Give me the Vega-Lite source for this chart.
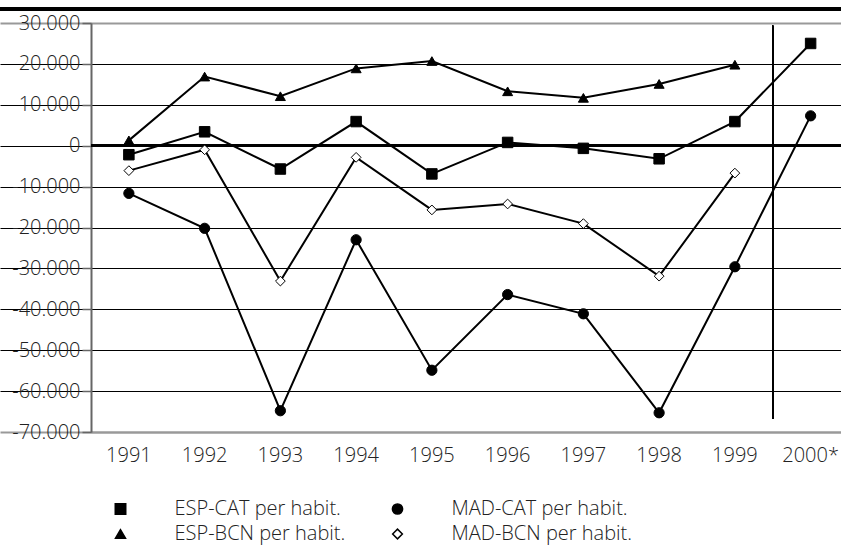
{
  "$schema": "https://vega.github.io/schema/vega-lite/v6.json",
  "autosize": "none",
  "width": 750,
  "height": 409,
  "padding": {"left": 91, "top": 23, "right": 0, "bottom": 115},
  "background": "white",
  "config": {
    "view": {"stroke": null},
    "font": "Open Sans",
    "axis": {"labelFont": "Open Sans", "labelFontWeight": 300, "labelColor": "#222", "labelFontSize": 20},
    "legend": {"labelFont": "Open Sans", "labelFontWeight": 300, "labelColor": "#222"}
  },
  "data": {"values": [
    {"year": "1991", "series": "ESP-CAT per habit.", "value": -2200},
    {"year": "1992", "series": "ESP-CAT per habit.", "value": 3400},
    {"year": "1993", "series": "ESP-CAT per habit.", "value": -5700},
    {"year": "1994", "series": "ESP-CAT per habit.", "value": 5900},
    {"year": "1995", "series": "ESP-CAT per habit.", "value": -6900},
    {"year": "1996", "series": "ESP-CAT per habit.", "value": 800},
    {"year": "1997", "series": "ESP-CAT per habit.", "value": -650},
    {"year": "1998", "series": "ESP-CAT per habit.", "value": -3200},
    {"year": "1999", "series": "ESP-CAT per habit.", "value": 5900},
    {"year": "2000*", "series": "ESP-CAT per habit.", "value": 25000},
    {"year": "1991", "series": "MAD-CAT per habit.", "value": -11650},
    {"year": "1992", "series": "MAD-CAT per habit.", "value": -20200},
    {"year": "1993", "series": "MAD-CAT per habit.", "value": -64800},
    {"year": "1994", "series": "MAD-CAT per habit.", "value": -23000},
    {"year": "1995", "series": "MAD-CAT per habit.", "value": -54900},
    {"year": "1996", "series": "MAD-CAT per habit.", "value": -36400},
    {"year": "1997", "series": "MAD-CAT per habit.", "value": -41100},
    {"year": "1998", "series": "MAD-CAT per habit.", "value": -65300},
    {"year": "1999", "series": "MAD-CAT per habit.", "value": -29600},
    {"year": "2000*", "series": "MAD-CAT per habit.", "value": 7300},
    {"year": "1991", "series": "ESP-BCN per habit.", "value": 1300},
    {"year": "1992", "series": "ESP-BCN per habit.", "value": 16900},
    {"year": "1993", "series": "ESP-BCN per habit.", "value": 12100},
    {"year": "1994", "series": "ESP-BCN per habit.", "value": 18900},
    {"year": "1995", "series": "ESP-BCN per habit.", "value": 20700},
    {"year": "1996", "series": "ESP-BCN per habit.", "value": 13300},
    {"year": "1997", "series": "ESP-BCN per habit.", "value": 11700},
    {"year": "1998", "series": "ESP-BCN per habit.", "value": 15100},
    {"year": "1999", "series": "ESP-BCN per habit.", "value": 19800},
    {"year": "1991", "series": "MAD-BCN per habit.", "value": -6100},
    {"year": "1992", "series": "MAD-BCN per habit.", "value": -1000},
    {"year": "1993", "series": "MAD-BCN per habit.", "value": -33100},
    {"year": "1994", "series": "MAD-BCN per habit.", "value": -2850},
    {"year": "1995", "series": "MAD-BCN per habit.", "value": -15700},
    {"year": "1996", "series": "MAD-BCN per habit.", "value": -14250},
    {"year": "1997", "series": "MAD-BCN per habit.", "value": -19050},
    {"year": "1998", "series": "MAD-BCN per habit.", "value": -31900},
    {"year": "1999", "series": "MAD-BCN per habit.", "value": -6700}
  ]},
  "resolve": {"scale": {"x": "independent"}},
  "layer": [
    {
      "mark": {"type": "rule", "color": "black", "strokeWidth": 2.5},
      "encoding": {
        "x": {"datum": 0, "type": "quantitative", "scale": {"domain": [0, 1], "range": [-91, 750], "nice": false, "zero": false}, "axis": null},
        "x2": {"datum": 1},
        "y": {"datum": 33400, "type": "quantitative"}
      }
    },
    {
      "encoding": {
        "x": {
          "field": "year", "type": "ordinal",
          "scale": {"type": "band", "domain": ["1991","1992","1993","1994","1995","1996","1997","1998","1999","2000*"], "range": [0, 757.5], "paddingInner": 0, "paddingOuter": 0},
          "axis": {"title": null, "labelAngle": 0, "ticks": false, "labelPadding": 13, "domainColor": "#999", "domainWidth": 2, "grid": false, "labelColor": "#222"}
        },
        "y": {
          "field": "value", "type": "quantitative",
          "scale": {"domain": [-70000, 30000], "nice": false, "zero": false},
          "axis": {
            "title": null,
            "values": [30000, 20000, 10000, 0, -10000, -20000, -30000, -40000, -50000, -60000, -70000],
            "labelExpr": "datum.value == 0 ? '0' : (datum.value < 0 ? '-' : '') + abs(datum.value) / 1000 + '.000'",
            "labelColor": "#222",
            "tickSize": 9, "tickColor": "#666", "tickWidth": 1.5, "labelPadding": 2,
            "domainColor": "#666", "domainWidth": 2,
            "grid": true,
            "gridColor": {"condition": {"test": "datum.value == 30000 || datum.value == -70000", "value": "#999"}, "value": "black"},
            "gridWidth": {"condition": {"test": "datum.value == 30000 || datum.value == -70000", "value": 2}, "value": 1}
          }
        }
      },
      "layer": [
        {
          "mark": {"type": "rule", "color": "black", "strokeWidth": 2.5},
          "encoding": {"x": null, "y": {"datum": 0, "type": "quantitative"}}
        },
        {
          "mark": {"type": "rule", "color": "black", "strokeWidth": 1},
          "encoding": {
            "x": {"datum": "1999", "type": "ordinal", "bandPosition": 1},
            "y": {"datum": 29300, "type": "quantitative"},
            "y2": {"datum": -66700}
          }
        },
        {
          "mark": {"type": "line", "color": "black", "strokeWidth": 2},
          "encoding": {"detail": {"field": "series"}}
        },
        {
          "mark": {"type": "point", "filled": true, "stroke": "black", "strokeWidth": 1, "opacity": 1},
          "encoding": {
            "shape": {
              "field": "series", "type": "nominal",
              "scale": {"domain": ["ESP-CAT per habit.", "MAD-CAT per habit.", "ESP-BCN per habit.", "MAD-BCN per habit."], "range": ["square", "circle", "triangle-up", "diamond"]},
              "legend": {
                "title": null, "orient": "none", "legendX": 1, "legendY": 476,
                "direction": "horizontal", "columns": 2,
                "columnPadding": 23, "rowPadding": 5,
                "labelFontSize": 20, "labelLimit": 300, "labelOffset": 44,
                "symbolOffset": 18.5, "symbolOpacity": 1
              }
            },
            "fill": {
              "field": "series", "type": "nominal",
              "scale": {"domain": ["ESP-CAT per habit.", "MAD-CAT per habit.", "ESP-BCN per habit.", "MAD-BCN per habit."], "range": ["black", "black", "black", "white"]},
              "legend": {
                "title": null, "orient": "none", "legendX": 1, "legendY": 476,
                "direction": "horizontal", "columns": 2,
                "columnPadding": 23, "rowPadding": 5,
                "labelFontSize": 20, "labelLimit": 300, "labelOffset": 44,
                "symbolOffset": 18.5, "symbolOpacity": 1
              }
            },
            "size": {
              "field": "series", "type": "ordinal",
              "scale": {"domain": ["ESP-CAT per habit.", "MAD-CAT per habit.", "ESP-BCN per habit.", "MAD-BCN per habit."], "range": [110, 95, 150, 160]},
              "legend": {
                "title": null, "orient": "none", "legendX": 1, "legendY": 476,
                "direction": "horizontal", "columns": 2,
                "columnPadding": 23, "rowPadding": 5,
                "labelFontSize": 20, "labelLimit": 300, "labelOffset": 44,
                "symbolOffset": 18.5, "symbolOpacity": 1
              }
            }
          }
        }
      ]
    }
  ]
}
